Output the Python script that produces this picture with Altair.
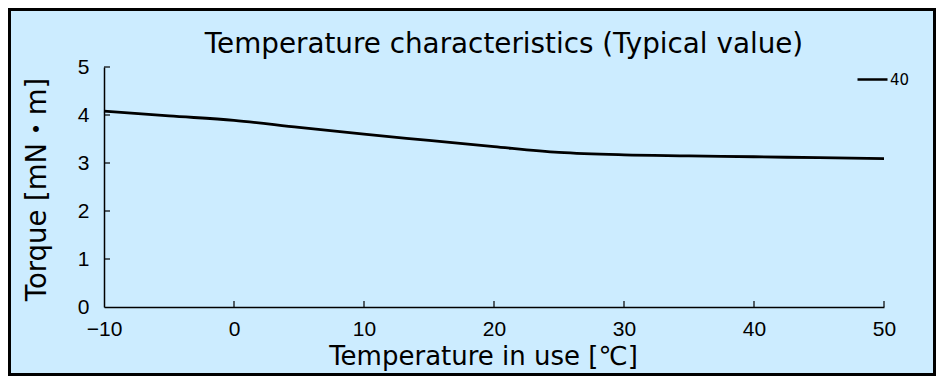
import altair as alt
import pandas as pd

# Data
temps = [-10, -5, 0, 5, 10, 15, 20, 25, 30, 35, 40, 45, 50]
torque = [4.08, 3.98, 3.89, 3.74, 3.60, 3.47, 3.34, 3.22, 3.17, 3.15, 3.13, 3.11, 3.09]
series_name = ["40"] * len(temps)

x_ticks = [-10, 0, 10, 20, 30, 40, 50]
y_ticks = [0, 1, 2, 3, 4, 5]
chart_title = ["Temperature characteristics (Typical value)"]

df = pd.DataFrame({"t": temps, "torque": torque, "series": series_name})
xt = pd.DataFrame({"t": x_ticks[1:]})
yt = pd.DataFrame({"v": y_ticks[1:]})
title_df = pd.DataFrame({"title": chart_title})
border_df = pd.DataFrame({"b": [0]})

W, H = 780, 240
PL, PT, PR, PB = 96, 59, 52, 69

x_scale = alt.Scale(domain=[-10, 50], nice=False, zero=False)
y_scale = alt.Scale(domain=[0, 5], nice=False)

label_font = "Liberation Sans"
title_font = "DejaVu Sans, Noto Sans CJK JP"

line = alt.Chart(df).mark_line(interpolate="monotone", strokeWidth=2.8).encode(
    x=alt.X("t:Q", scale=x_scale,
            axis=alt.Axis(values=x_ticks, title="Temperature in use [℃]", tickSize=0,
                          labelPadding=11, labelFontSize=21, labelFont=label_font,
                          labelColor="black", labelFlush=False,
                          titleFont=title_font, titleFontSize=26,
                          titleFontWeight="normal", titleColor="black",
                          titleBaseline="alphabetic", titleY=57,
                          titleX=379, grid=False, domainColor="black",
                          domainWidth=1.5)),
    y=alt.Y("torque:Q", scale=y_scale,
            axis=alt.Axis(values=y_ticks, title="Torque [mN・m]", tickSize=0,
                          labelPadding=15, labelFontSize=21, labelFont=label_font,
                          labelColor="black", labelFlush=False,
                          titleFont=title_font, titleFontSize=27.5,
                          titleFontWeight="normal", titleColor="black",
                          titleBaseline="alphabetic", titleX=-59, titleY=122,
                          titleAngle=270,
                          grid=False, domainColor="black", domainWidth=1.5)),
    color=alt.Color("series:N", scale=alt.Scale(range=["black"]),
                    legend=alt.Legend(title=None, orient="none", legendX=752, legendY=-4,
                                      symbolType="stroke", symbolSize=900,
                                      symbolStrokeWidth=2.5, labelFontSize=15,
                                      labelFont="DejaVu Sans", labelColor="black",
                                      labelOffset=1)),
)

xticks = alt.Chart(xt).mark_rule(color="black", strokeWidth=1.2).encode(
    x=alt.X("t:Q", scale=x_scale),
    y=alt.value(H),
    y2=alt.value(H - 6),
)
yticks = alt.Chart(yt).mark_rule(color="black", strokeWidth=1.2).encode(
    y=alt.Y("v:Q", scale=y_scale),
    x=alt.value(0),
    x2=alt.value(6),
)

title = alt.Chart(title_df).mark_text(
    font="DejaVu Sans", fontSize=27.8, color="black", align="center", baseline="alphabetic"
).encode(text="title:N", x=alt.value(400), y=alt.value(-14))

border = alt.Chart(border_df).mark_rect(fill=None, stroke="black", strokeWidth=3).encode(
    x=alt.value(-PL + 1.5),
    x2=alt.value(W + PR - 1.5),
    y=alt.value(-PT + 1.5),
    y2=alt.value(H + PB - 1.5),
)

chart = alt.layer(line, xticks, yticks, title, border).properties(
    width=W,
    height=H,
    padding={"left": PL, "top": PT, "right": PR, "bottom": PB},
    autosize=alt.AutoSizeParams(type="none"),
    background="#CCECFF",
).configure_view(stroke=None)

chart.save("out.html", embed_options={"renderer": "svg", "actions": False})
